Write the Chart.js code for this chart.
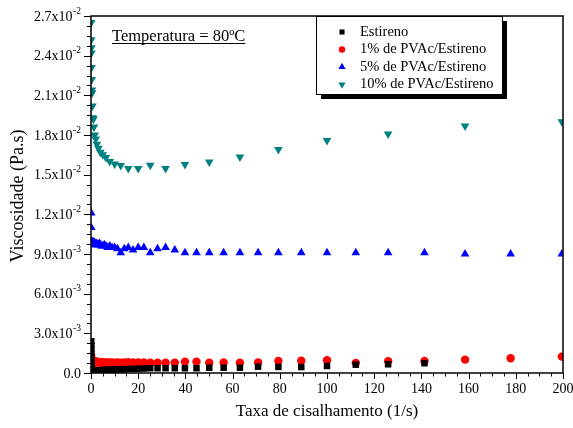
<!DOCTYPE html>
<html>
<head>
<meta charset="utf-8">
<script src="https://cdn.jsdelivr.net/npm/chart.js@4/dist/chart.umd.min.js"></script>
<style>
  html, body { margin: 0; padding: 0; background: #fff; }
  canvas { display: block; }
</style>
</head>
<body>
<canvas id="c" width="573" height="428"></canvas>
<script>
// Shear rates (1/s): 20 points per decade for the first three series
const shearRate = [
  0.1, 0.112, 0.126, 0.141, 0.158, 0.178, 0.2, 0.224, 0.251, 0.282, 0.316, 0.355, 0.398, 0.447, 0.501, 0.562, 0.631, 0.708, 0.794, 0.891,
  1, 1.12, 1.26, 1.41, 1.58, 1.78, 2, 2.24, 2.51, 2.82, 3.16, 3.55, 3.98, 4.47, 5.01, 5.62, 6.31, 7.08, 7.94, 8.91,
  10, 11.2, 12.6, 14.1, 15.8, 17.8, 20, 22.4, 25.1, 28.2, 31.6, 35.5, 39.8, 44.7, 50.1, 56.2, 63.1, 70.8, 79.4, 89.1,
  100, 112.2, 125.9, 141.3, 158.5, 177.8, 199.5
];
// Shear rates (1/s) for the 10% blend: 10 points per decade
const shearRate10 = [
  0.1, 0.126, 0.158, 0.2, 0.251, 0.316, 0.398, 0.501, 0.631, 0.794,
  1, 1.26, 1.58, 2, 2.51, 3.16, 3.98, 5.01, 6.31, 7.94,
  10, 12.6, 15.8, 20, 25.1, 31.6, 39.8, 50.1, 63.1, 79.4,
  100, 125.9, 158.5, 199.5
];

// Viscosity (Pa.s)
const estireno = [
  0.0024, 0.0021, 0.0018, 0.0015, 0.0012, 0.0009, 0.0006, 0.0004, 0.0002, 0.0001, 0.0001, 0.0001, 0.00012, 0.00012, 0.00013, 0.00013, 0.00014, 0.00014, 0.00015, 0.00015,
  0.00015, 0.00016, 0.00016, 0.00017, 0.00017, 0.00018, 0.00018, 0.00019, 0.00019, 0.0002, 0.0002, 0.00021, 0.00021, 0.00022, 0.00022, 0.00023, 0.00023, 0.00024, 0.00025, 0.00025,
  0.00026, 0.00027, 0.00028, 0.00029, 0.0003, 0.00031, 0.00032, 0.00034, 0.00036, 0.00036, 0.00036, 0.00036, 0.00036, 0.00036, 0.0004, 0.0004, 0.0004, 0.00048, 0.00046, 0.00045,
  0.00053, 0.00063, 0.00066, 0.00074
];
const pvac1 = [
  0.0013, 0.0004, 0.0011, 0.0006, 0.0010, 0.0006, 0.0010, 0.0007, 0.0009, 0.0007, 0.0010, 0.0007, 0.0009, 0.0007, 0.0009, 0.0007, 0.0009, 0.0007, 0.0009, 0.0008,
  0.0009, 0.0007, 0.0009, 0.0008, 0.0009, 0.0008, 0.00085, 0.0008, 0.00085, 0.0008, 0.00083, 0.0008, 0.0008, 0.00082, 0.0008, 0.0008, 0.00078, 0.0008, 0.00078, 0.0008,
  0.00078, 0.0008, 0.00078, 0.0008, 0.00082, 0.0008, 0.0008, 0.0008, 0.00078, 0.00078, 0.00078, 0.00078, 0.00086, 0.00086, 0.00078, 0.0008, 0.00078, 0.0008, 0.00091, 0.00093,
  0.00096, 0.00076, 0.00089, 0.00091, 0.00101, 0.00111, 0.00124
];
const pvac5 = [
  0.0121, 0.0110, 0.0099, 0.0098, 0.0099, 0.0098, 0.0099, 0.0098, 0.0099, 0.0098, 0.0099, 0.0098, 0.0099, 0.0098, 0.0098, 0.0099, 0.0098, 0.0098, 0.0099, 0.0098,
  0.0098, 0.0098, 0.0099, 0.0098, 0.0098, 0.0097, 0.0098, 0.0097, 0.0098, 0.0097, 0.0097, 0.0098, 0.0097, 0.0096, 0.0096, 0.0097, 0.0096, 0.0095, 0.0096, 0.0095,
  0.0095, 0.0094, 0.0091, 0.0094, 0.0095, 0.0093, 0.0095, 0.0095, 0.0091, 0.0094, 0.0095, 0.0093, 0.0091, 0.0091, 0.0091, 0.0091, 0.0091, 0.0091, 0.0091, 0.0091,
  0.0091, 0.0091, 0.0091, 0.0091, 0.0090, 0.0090, 0.0090
];
const pvac10 = [
  0.0265, 0.0252, 0.0246, 0.0242, 0.0231, 0.0222, 0.0214, 0.0212, 0.0202, 0.0193,
  0.0192, 0.0186, 0.0180, 0.0177, 0.0173, 0.0170, 0.0167, 0.0165, 0.0163, 0.0160,
  0.0158, 0.0157, 0.01547, 0.01547, 0.01572, 0.01547, 0.01577, 0.01595, 0.01633, 0.01691,
  0.01759, 0.01807, 0.01868, 0.01901
];

const seriesNames = ['Estireno', '1% de PVAc/Estireno', '5% de PVAc/Estireno', '10% de PVAc/Estireno'];

// Axis ticks
const xTicks = [0, 20, 40, 60, 80, 100, 120, 140, 160, 180, 200];
const yTicks = [0, 0.003, 0.006, 0.009, 0.012, 0.015, 0.018, 0.021, 0.024, 0.027];
const yTickMantissa = ['0.0', '3.0x10', '6.0x10', '9.0x10', '1.2x10', '1.5x10', '1.8x10', '2.1x10', '2.4x10', '2.7x10'];
const yTickExponent = ['', '-3', '-3', '-3', '-2', '-2', '-2', '-2', '-2', '-2'];

const SERIF = "'Liberation Serif', 'Times New Roman', serif";

function pts(xs, ys) { return ys.map((y, i) => ({ x: xs[i], y })); }

const styles = [
  { color: '#000000', pointStyle: 'rect', radius: 4.6, rotation: 0 },
  { color: '#ff0000', pointStyle: 'circle', radius: 4.2, rotation: 0 },
  { color: '#0000ff', pointStyle: 'triangle', radius: 5, rotation: 0 },
  { color: '#008080', pointStyle: 'triangle', radius: 5, rotation: 180 }
];
const seriesData = [pts(shearRate, estireno), pts(shearRate, pvac1), pts(shearRate, pvac5), pts(shearRate10, pvac10)];

const datasets = seriesData.map((d, i) => ({
  label: seriesNames[i],
  data: d,
  showLine: false,
  pointStyle: styles[i].pointStyle,
  pointRadius: styles[i].radius,
  pointRotation: styles[i].rotation,
  backgroundColor: styles[i].color,
  borderColor: styles[i].color,
  pointBorderWidth: 0,
  clip: 0
}));

// Draws the frame, ticks, tick labels, axis titles, legend box and annotation
const decorations = {
  id: 'decorations',
  afterDatasetsDraw(chart) {
    const ctx = chart.ctx;
    const xs = chart.scales.x, ys = chart.scales.y;
    const a = chart.chartArea;
    ctx.save();
    ctx.strokeStyle = '#000';
    ctx.fillStyle = '#000';

    // frame
    ctx.lineWidth = 1.5;
    ctx.strokeRect(a.left, a.top, a.right - a.left, a.bottom - a.top);

    // x ticks (outward)
    ctx.lineWidth = 1;
    for (let v = 0; v <= 200; v += 5) {
      const px = Math.round(xs.getPixelForValue(v)) + 0.5;
      const major = v % 20 === 0;
      ctx.beginPath();
      ctx.moveTo(px, a.bottom);
      ctx.lineTo(px, a.bottom + (major ? 6 : 3.5));
      ctx.stroke();
    }
    // y ticks (outward)
    for (let i = 0; i <= 36; i++) {
      const py = Math.round(ys.getPixelForValue(i * 0.00075)) + 0.5;
      const major = i % 4 === 0;
      ctx.beginPath();
      ctx.moveTo(a.left, py);
      ctx.lineTo(a.left - (major ? 7 : 4), py);
      ctx.stroke();
    }

    // x tick labels
    ctx.font = '14px ' + SERIF;
    ctx.textAlign = 'center';
    ctx.textBaseline = 'middle';
    xTicks.forEach(v => ctx.fillText(String(v), xs.getPixelForValue(v), a.bottom + 16));

    // y tick labels with superscript exponent
    const right = a.left - 10;
    yTicks.forEach((v, i) => {
      const py = ys.getPixelForValue(v);
      ctx.textBaseline = 'middle';
      ctx.textAlign = 'right';
      let x = right;
      if (yTickExponent[i]) {
        ctx.font = '9.5px ' + SERIF;
        const ew = ctx.measureText(yTickExponent[i]).width;
        ctx.textAlign = 'left';
        ctx.fillText(yTickExponent[i], right - ew, py - 5);
        x = right - ew - 0.5;
        ctx.textAlign = 'right';
      }
      ctx.font = '14px ' + SERIF;
      ctx.fillText(yTickMantissa[i], x, py + 1);
    });

    // axis titles
    ctx.textAlign = 'center';
    ctx.textBaseline = 'middle';
    ctx.font = '17px ' + SERIF;
    ctx.fillText('Taxa de cisalhamento (1/s)', (a.left + a.right) / 2, 412);
    ctx.save();
    ctx.font = '18px ' + SERIF;
    ctx.translate(18, 196);
    ctx.rotate(-Math.PI / 2);
    ctx.fillText('Viscosidade (Pa.s)', 0, 0);
    ctx.restore();

    // annotation
    ctx.font = '16.5px ' + SERIF;
    ctx.textAlign = 'left';
    ctx.textBaseline = 'alphabetic';
    const note = 'Temperatura = 80ºC';
    ctx.fillText(note, 112, 41);
    const nw = ctx.measureText(note).width;
    ctx.fillRect(112, 43, nw, 1);

    // legend box with drop shadow
    const lx = 316, ly = 16, lw = 186, lh = 78;
    ctx.fillStyle = '#000';
    ctx.fillRect(lx + 5, ly + 5, lw, lh);
    ctx.fillStyle = '#fff';
    ctx.fillRect(lx, ly, lw, lh);
    ctx.lineWidth = 1;
    ctx.strokeRect(lx + 0.5, ly + 0.5, lw, lh);

    const rows = [32, 49.5, 67, 84.5];
    const legendRadius = [3.6, 3.2, 4.2, 4.2];
    ctx.font = '14.5px ' + SERIF;
    ctx.textBaseline = 'middle';
    rows.forEach((ry, i) => {
      ctx.fillStyle = styles[i].color;
      ctx.strokeStyle = styles[i].color;
      Chart.helpers.drawPoint(ctx, {
        pointStyle: styles[i].pointStyle,
        rotation: styles[i].rotation,
        radius: legendRadius[i],
        borderWidth: 0
      }, 342, ry);
      ctx.fillStyle = '#000';
      ctx.fillText(seriesNames[i], 360, ry);
    });

    ctx.restore();
  }
};

new Chart(document.getElementById('c'), {
  type: 'scatter',
  data: { datasets },
  options: {
    responsive: false,
    animation: false,
    events: [],
    layout: { padding: { left: 91, right: 10, top: 16, bottom: 55 } },
    plugins: { legend: { display: false }, tooltip: { enabled: false } },
    scales: {
      x: { type: 'linear', min: 0, max: 200, display: false },
      y: { type: 'linear', min: 0, max: 0.027, display: false }
    }
  },
  plugins: [decorations]
});
</script>
</body>
</html>
